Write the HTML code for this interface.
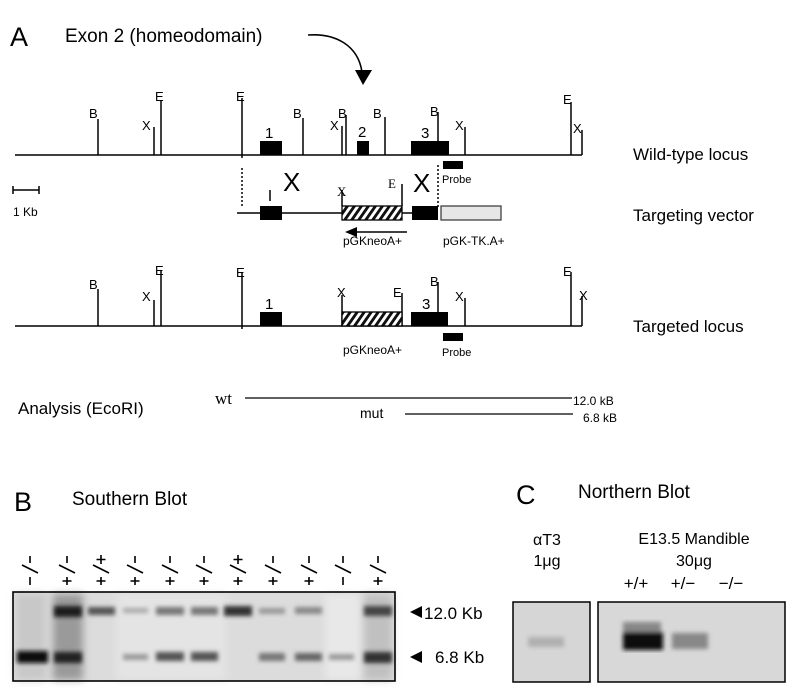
<!DOCTYPE html>
<html><head><meta charset="utf-8"><style>
html,body{margin:0;padding:0;background:#fff;}
svg{display:block;font-family:"Liberation Sans",Arial,sans-serif;}
</style></head><body>
<svg width="801" height="696" viewBox="0 0 801 696" xmlns="http://www.w3.org/2000/svg">
<defs>
<pattern id="hatch" width="7" height="14" patternUnits="userSpaceOnUse" patternTransform="skewX(-35)">
<rect width="7" height="14" fill="#fff"/><rect width="3.5" height="14" fill="#111"/>
</pattern>
<filter id="blur2"><feGaussianBlur stdDeviation="2.2"/></filter>
<filter id="blur4"><feGaussianBlur stdDeviation="4"/></filter>
</defs>

<text x="10" y="46" font-size="27">A</text>
<text x="65" y="42" font-size="19">Exon 2  (homeodomain)</text>
<path d="M308 35 C 335 33, 358 45, 362 72" fill="none" stroke="#000" stroke-width="1.6"/>
<polygon points="355,70 372,70 363,85" fill="#000"/>

<g stroke="#000" stroke-width="1.5" fill="none">
<line x1="15" y1="155" x2="582" y2="155"/>
<line x1="98" y1="119" x2="98" y2="155"/>
<line x1="154" y1="127" x2="154" y2="155"/>
<line x1="161" y1="100" x2="161" y2="155"/>
<line x1="242" y1="98" x2="242" y2="158"/>
<line x1="303" y1="118" x2="303" y2="155"/>
<line x1="342" y1="126" x2="342" y2="155"/>
<line x1="346" y1="115" x2="346" y2="155"/>
<line x1="385" y1="117" x2="385" y2="155"/>
<line x1="438" y1="112" x2="438" y2="155"/>
<line x1="465" y1="127" x2="465" y2="155"/>
<line x1="571" y1="102" x2="571" y2="155"/>
<line x1="582" y1="130" x2="582" y2="155"/>
<line x1="237" y1="213" x2="342" y2="213"/>
<line x1="402" y1="213" x2="412" y2="213"/>
<line x1="270" y1="190" x2="270" y2="201"/>
<line x1="342" y1="190" x2="342" y2="206"/>
<line x1="402" y1="184" x2="402" y2="206"/>
<line x1="242" y1="168" x2="242" y2="207" stroke-dasharray="2,2"/>
<line x1="438" y1="165" x2="438" y2="207" stroke-dasharray="2,2"/>
<line x1="355" y1="232" x2="407" y2="232"/>
<line x1="15" y1="326" x2="582" y2="326"/>
<line x1="98" y1="289" x2="98" y2="326"/>
<line x1="154" y1="300" x2="154" y2="326"/>
<line x1="161" y1="271" x2="161" y2="326"/>
<line x1="242" y1="273" x2="242" y2="329"/>
<line x1="342" y1="295" x2="342" y2="326"/>
<line x1="402" y1="293" x2="402" y2="326"/>
<line x1="438" y1="282" x2="438" y2="326"/>
<line x1="465" y1="298" x2="465" y2="326"/>
<line x1="571" y1="272" x2="571" y2="326"/>
<line x1="582" y1="296" x2="582" y2="326"/>
<line x1="13" y1="190" x2="39" y2="190"/>
<line x1="13" y1="186" x2="13" y2="194"/>
<line x1="39" y1="186" x2="39" y2="194"/>
<line x1="245" y1="398" x2="572" y2="398" stroke-width="1.2"/>
<line x1="405" y1="414" x2="573" y2="414" stroke-width="1.2"/>
</g>

<g fill="#000">
<rect x="260" y="141" width="22" height="14"/>
<rect x="357" y="141" width="12" height="14"/>
<rect x="411" y="141" width="38" height="14"/>
<rect x="443" y="161" width="20" height="8"/>
<rect x="260" y="206" width="22" height="14"/>
<rect x="412" y="206" width="26" height="14"/>
<rect x="260" y="312" width="22" height="14"/>
<rect x="411" y="312" width="37" height="14"/>
<rect x="443" y="333" width="20" height="8"/>
<polygon points="345,232 357,227 357,237"/>
</g>
<rect x="342" y="206" width="60" height="14" fill="url(#hatch)" stroke="#000" stroke-width="1.3"/>
<rect x="342" y="312" width="60" height="14" fill="url(#hatch)" stroke="#000" stroke-width="1.3"/>
<rect x="441" y="206" width="60" height="14" fill="#e6e6e6" stroke="#333" stroke-width="1.2"/>

<g font-size="13">
<text x="89" y="118">B</text><text x="142" y="130">X</text><text x="155" y="101">E</text>
<text x="236" y="101">E</text><text x="293" y="118">B</text><text x="330" y="130">X</text>
<text x="338" y="118">B</text><text x="373" y="118">B</text><text x="430" y="116">B</text>
<text x="455" y="130">X</text><text x="563" y="104">E</text><text x="573" y="133">X</text>
<text x="89" y="289">B</text><text x="142" y="301">X</text><text x="155" y="275">E</text>
<text x="236" y="277">E</text><text x="337" y="297">X</text><text x="393" y="297">E</text>
<text x="430" y="286">B</text><text x="455" y="301">X</text><text x="563" y="276">E</text>
<text x="579" y="300">X</text>
</g>
<g font-size="15">
<text x="265" y="138">1</text><text x="358" y="137">2</text><text x="421" y="138">3</text>
<text x="265" y="309">1</text><text x="422" y="309">3</text>
</g>
<text x="337" y="196" font-size="13" font-family="Liberation Serif,serif">X</text>
<text x="388" y="188" font-size="13" font-family="Liberation Serif,serif">E</text>
<text x="283" y="191" font-size="26">X</text>
<text x="413" y="192" font-size="26">X</text>
<text x="442" y="183" font-size="11">Probe</text>
<text x="442" y="356" font-size="11">Probe</text>
<text x="343" y="245" font-size="12">pGKneoA+</text>
<text x="443" y="245" font-size="12">pGK-TK.A+</text>
<text x="343" y="354" font-size="12">pGKneoA+</text>
<text x="13" y="216" font-size="12">1 Kb</text>
<g font-size="17">
<text x="633" y="160">Wild-type locus</text>
<text x="633" y="221">Targeting vector</text>
<text x="633" y="332">Targeted locus</text>
<text x="18" y="414">Analysis (EcoRI)</text>
</g>
<text x="215" y="404" font-size="17" font-family="Liberation Serif,serif">wt</text>
<text x="360" y="418" font-size="14">mut</text>
<text x="573" y="405" font-size="12">12.0 kB</text>
<text x="583" y="422" font-size="12">6.8 kB</text>

<text x="14" y="511" font-size="27">B</text>
<text x="72" y="505" font-size="19">Southern Blot</text>
<g stroke="#000" stroke-width="1.6" fill="none">
<path d="M22,565 L38,573 M59,565 L75,573 M93,565 L109,573 M127,565 L143,573 M162,565 L178,573 M196,565 L212,573 M230,565 L246,573 M265,565 L281,573 M301,565 L317,573 M335,565 L351,573 M370,565 L386,573"/>
<path d="M30,556 V563 M67,556 V563 M135,556 V563 M170,556 V563 M204,556 V563 M273,556 V563 M309,556 V563 M343,556 V563 M378,556 V563"/>
<path d="M101,555 V564 M96.5,559.5 H105.5 M238,555 V564 M233.5,559.5 H242.5"/>
<path d="M30,577 V585 M343,577 V585"/>
<path d="M67,577 V585 M62.5,581 H71.5 M101,577 V585 M96.5,581 H105.5 M135,577 V585 M130.5,581 H139.5 M170,577 V585 M165.5,581 H174.5 M204,577 V585 M199.5,581 H208.5 M238,577 V585 M233.5,581 H242.5 M273,577 V585 M268.5,581 H277.5 M309,577 V585 M304.5,581 H313.5 M378,577 V585 M373.5,581 H382.5"/>
</g>
<rect x="13" y="592" width="382" height="89" fill="#dcdcdc"/>
<g filter="url(#blur4)">
<rect x="16" y="594" width="30" height="86" fill="#c8c8c8"/>
<rect x="53" y="594" width="30" height="86" fill="#9a9a9a"/>
<rect x="116" y="594" width="110" height="86" fill="#e4e4e4"/>
<rect x="325" y="594" width="35" height="86" fill="#e8e8e8"/>
<rect x="364" y="594" width="28" height="86" fill="#c0c0c0"/>
</g>
<g filter="url(#blur2)">
<rect x="54" y="606" width="28" height="11" fill="#1a1a1a"/>
<rect x="88" y="607" width="27" height="8" fill="#555"/>
<rect x="123" y="608" width="25" height="5" fill="#aaa"/>
<rect x="156" y="607" width="28" height="8" fill="#777"/>
<rect x="191" y="607" width="27" height="8" fill="#777"/>
<rect x="224" y="606" width="28" height="10" fill="#333"/>
<rect x="259" y="608" width="26" height="6" fill="#999"/>
<rect x="295" y="607" width="27" height="7" fill="#888"/>
<rect x="364" y="606" width="28" height="10" fill="#444"/>
<rect x="17" y="651" width="31" height="12" fill="#111"/>
<rect x="54" y="652" width="28" height="11" fill="#222"/>
<rect x="123" y="654" width="25" height="6" fill="#999"/>
<rect x="156" y="652" width="28" height="9" fill="#555"/>
<rect x="191" y="652" width="27" height="9" fill="#555"/>
<rect x="259" y="653" width="26" height="8" fill="#777"/>
<rect x="295" y="653" width="27" height="8" fill="#666"/>
<rect x="329" y="654" width="25" height="6" fill="#999"/>
<rect x="364" y="652" width="28" height="11" fill="#333"/>
</g>
<rect x="13" y="592" width="382" height="89" fill="none" stroke="#000" stroke-width="1.6"/>
<polygon points="410,612 422,606 422,618" fill="#000"/>
<text x="424" y="619" font-size="17">12.0 Kb</text>
<polygon points="410,657 422,651 422,663" fill="#000"/>
<text x="435" y="663" font-size="17">6.8 Kb</text>

<text x="516" y="504" font-size="27">C</text>
<text x="578" y="498" font-size="19">Northern Blot</text>
<text x="547" y="545" font-size="16" text-anchor="middle">αT3</text>
<text x="547" y="566" font-size="16" text-anchor="middle">1μg</text>
<text x="694" y="544" font-size="16" text-anchor="middle">E13.5 Mandible</text>
<text x="694" y="566" font-size="16" text-anchor="middle">30μg</text>
<text x="636" y="589" font-size="17" text-anchor="middle">+/+</text>
<text x="683" y="589" font-size="17" text-anchor="middle">+/−</text>
<text x="731" y="589" font-size="17" text-anchor="middle">−/−</text>
<rect x="513" y="602" width="77" height="80" fill="#d6d6d6"/>
<rect x="598" y="602" width="187" height="80" fill="#d8d8d8"/>
<g filter="url(#blur2)">
<rect x="528" y="637" width="36" height="10" fill="#b0b0b0"/>
<rect x="623" y="622" width="38" height="14" fill="#888"/>
<rect x="623" y="632" width="40" height="18" fill="#111"/>
<rect x="672" y="633" width="36" height="16" fill="#888"/>
</g>
<rect x="513" y="602" width="77" height="80" fill="none" stroke="#000" stroke-width="1.5"/>
<rect x="598" y="602" width="187" height="80" fill="none" stroke="#000" stroke-width="1.5"/>
</svg>
</body></html>
